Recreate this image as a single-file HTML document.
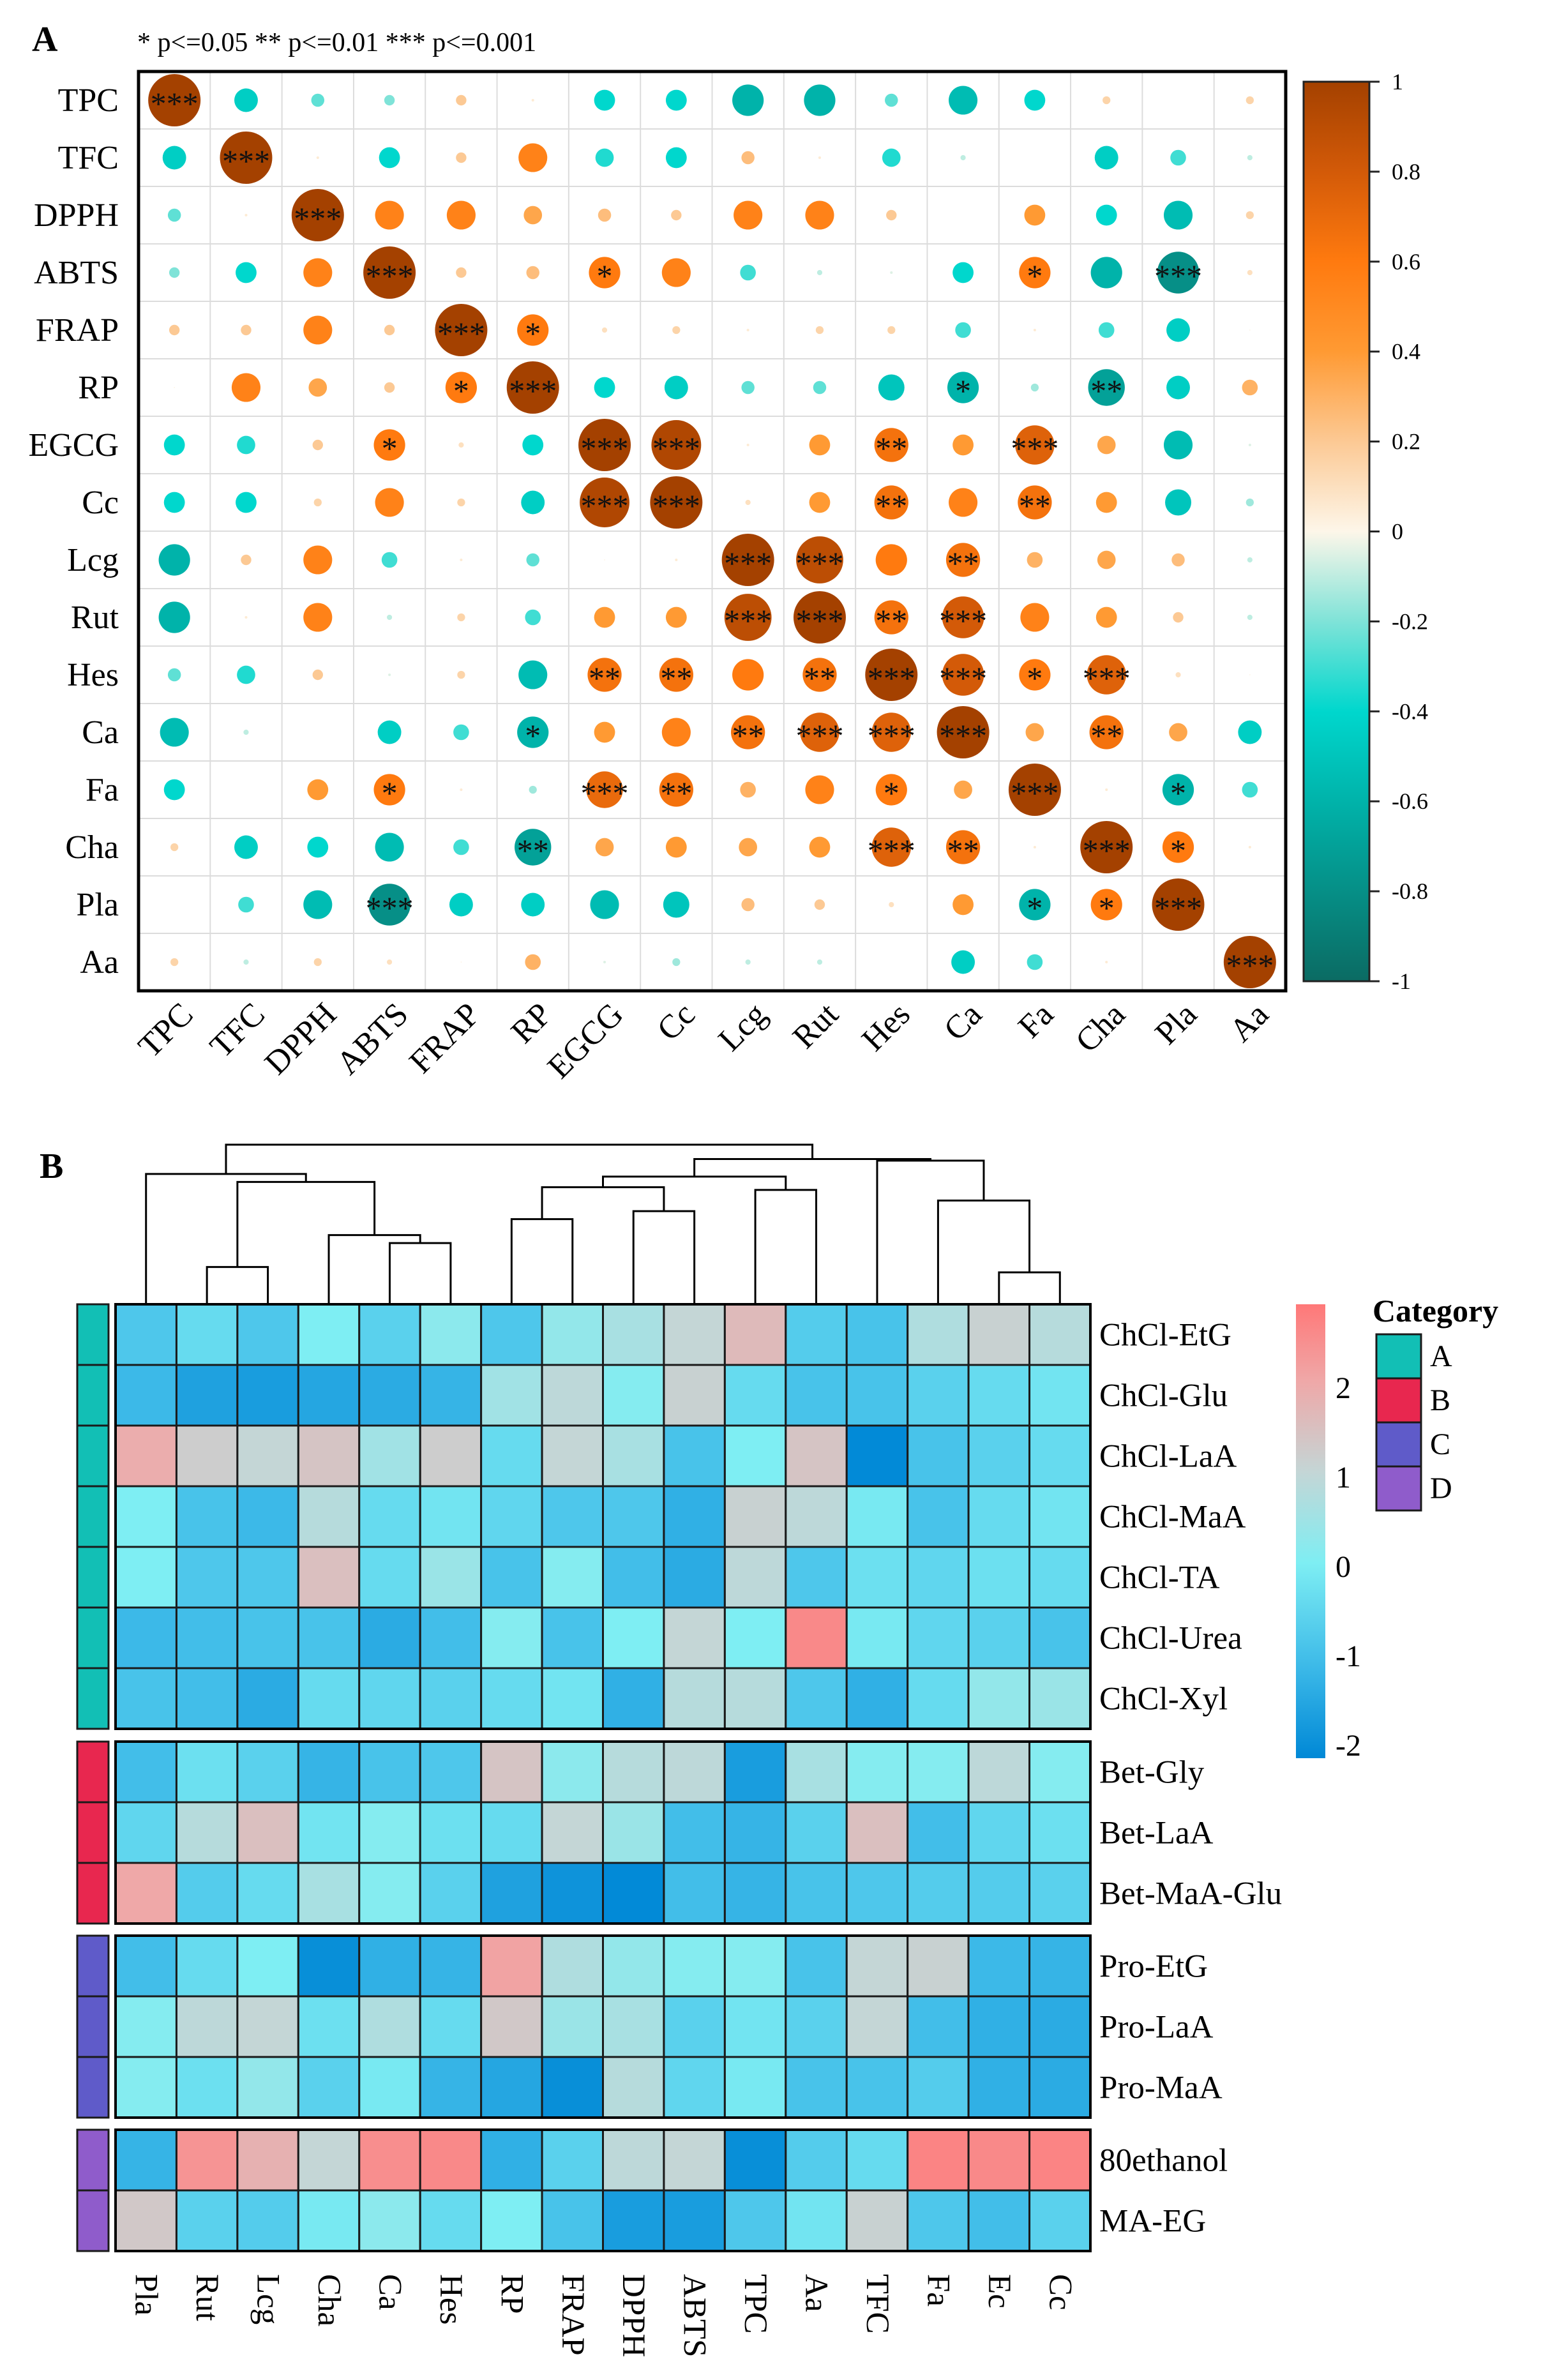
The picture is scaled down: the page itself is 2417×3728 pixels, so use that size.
<!DOCTYPE html>
<html><head><meta charset="utf-8"><style>
html,body{margin:0;padding:0;background:#fff}
svg{display:block;font-family:"Liberation Serif",serif}
</style></head><body>
<svg id="fig" xmlns="http://www.w3.org/2000/svg" width="2417" height="3728" viewBox="0 0 2417 3728">
<defs>
<linearGradient id="gA" x1="0" y1="1" x2="0" y2="0">
<stop offset="0" stop-color="#0b6b63"/><stop offset="0.2" stop-color="#00b3aa"/><stop offset="0.3" stop-color="#00d7cd"/><stop offset="0.4" stop-color="#7fe3d8"/><stop offset="0.5" stop-color="#fdf6e9"/><stop offset="0.6" stop-color="#fcc994"/><stop offset="0.7" stop-color="#ff9a33"/><stop offset="0.8" stop-color="#ff7a0f"/><stop offset="0.9" stop-color="#d35a08"/><stop offset="1" stop-color="#a44100"/>
</linearGradient>
<linearGradient id="gB" x1="0" y1="1" x2="0" y2="0">
<stop offset="0" stop-color="#0088d6"/><stop offset="0.2" stop-color="#3cb9e8"/><stop offset="0.43" stop-color="#7eeef3"/><stop offset="0.63" stop-color="#c4d6d6"/><stop offset="0.83" stop-color="#efa8a8"/><stop offset="1" stop-color="#ff7878"/>
</linearGradient>
</defs>
<text x="50" y="80" font-size="56" font-weight="bold">A</text>
<text x="215" y="80" font-size="42">* p&lt;=0.05  ** p&lt;=0.01  *** p&lt;=0.001</text>
<g id="panelA"></g>
<text x="62" y="1845" font-size="56" font-weight="bold">B</text>
<g id="panelB"></g>
</svg>
<script>
const varsA = ["TPC","TFC","DPPH","ABTS","FRAP","RP","EGCG","Cc","Lcg","Rut","Hes","Ca","Fa","Cha","Pla","Aa"];
const corrValues = [
[1,-0.45,-0.25,-0.2,0.2,0.05,-0.4,-0.4,-0.6,-0.6,-0.25,-0.55,-0.4,0.15,0,0.15],
[-0.45,1,0.05,-0.4,0.2,0.55,-0.35,-0.4,0.25,0.05,-0.35,-0.1,0,-0.45,-0.3,-0.1],
[-0.25,0.05,1,0.55,0.55,0.35,0.25,0.2,0.55,0.55,0.2,0,0.4,-0.4,-0.55,0.15],
[-0.2,-0.4,0.55,1,0.2,0.25,0.6,0.55,-0.3,-0.1,-0.05,-0.4,0.6,-0.6,-0.8,0.1],
[0.2,0.2,0.55,0.2,1,0.6,0.1,0.15,0.05,0.15,0.15,-0.3,0.05,-0.3,-0.45,0.02],
[0.02,0.55,0.35,0.2,0.6,1,-0.4,-0.45,-0.25,-0.25,-0.5,-0.6,-0.15,-0.7,-0.45,0.3],
[-0.4,-0.35,0.2,0.6,0.1,-0.4,1,0.95,0.05,0.4,0.65,0.4,0.75,0.35,-0.55,-0.05],
[-0.4,-0.4,0.15,0.55,0.15,-0.45,0.95,1,0.1,0.4,0.65,0.55,0.65,0.4,-0.5,-0.15],
[-0.6,0.2,0.55,-0.3,0.05,-0.25,0.02,0.05,1,0.9,0.6,0.65,0.3,0.35,0.25,-0.1],
[-0.6,0.05,0.55,-0.1,0.15,-0.3,0.4,0.4,0.9,1,0.65,0.8,0.55,0.4,0.2,-0.1],
[-0.25,-0.35,0.2,-0.05,0.15,-0.55,0.65,0.65,0.6,0.65,1,0.8,0.6,0.75,0.1,0.02],
[-0.55,-0.1,0,-0.45,-0.3,-0.6,0.4,0.55,0.65,0.75,0.75,1,0.35,0.65,0.35,-0.45],
[-0.4,0,0.4,0.6,0.05,-0.15,0.7,0.65,0.3,0.55,0.6,0.35,1,0.05,-0.6,-0.3],
[0.15,-0.45,-0.4,-0.55,-0.3,-0.7,0.35,0.4,0.35,0.4,0.75,0.65,0.05,1,0.6,0.05],
[0,-0.3,-0.55,-0.8,-0.45,-0.45,-0.55,-0.5,0.25,0.2,0.1,0.4,-0.6,0.6,1,0],
[0.15,-0.1,0.15,0.1,0.02,0.3,-0.05,-0.15,-0.1,-0.1,0,-0.45,-0.3,0.05,0,1]];
const corrStars = [
"3000000000000000","0300000000000000","0030000000000000","0003001000001030",
"0000310000000000","0000130000010200","0001003300203000","0000003300202000",
"0000000033020000","0000000033230000","0000002202331300","0000010023330200",
"0001003200103010","0000020000320310","0003000000001130","0000000000000003"];
const cbATicks = ["1","0.8","0.6","0.4","0.2","0","-0.2","-0.4","-0.6","-0.8","-1"];
const cbATickVals = [1,0.8,0.6,0.4,0.2,0,-0.2,-0.4,-0.6,-0.8,-1];

const rowsB = ["ChCl-EtG","ChCl-Glu","ChCl-LaA","ChCl-MaA","ChCl-TA","ChCl-Urea","ChCl-Xyl","Bet-Gly","Bet-LaA","Bet-MaA-Glu","Pro-EtG","Pro-LaA","Pro-MaA","80ethanol","MA-EG"];
const rowGroups = ["A","A","A","A","A","A","A","B","B","B","C","C","C","D","D"];
const colsB = ["Pla","Rut","Lcg","Cha","Ca","Hes","RP","FRAP","DPPH","ABTS","TPC","Aa","TFC","Fa","Ec","Cc"];
const heatValues = [
[-0.8,-0.4,-0.8,0,-0.6,0.2,-0.8,0.3,0.6,1,1.6,-0.7,-0.9,0.7,1.1,0.8],
[-1.1,-1.6,-1.7,-1.5,-1.4,-1.2,0.5,0.9,0.1,1.1,-0.4,-0.9,-0.9,-0.6,-0.4,-0.2],
[1.9,1.2,1.0,1.4,0.5,1.2,-0.4,1.0,0.6,-0.9,0,1.4,-2.1,-0.9,-0.6,-0.4],
[0,-0.9,-1.1,0.8,-0.4,-0.2,-0.5,-0.8,-0.8,-1.3,1.1,0.9,-0.1,-0.9,-0.4,-0.2],
[0,-0.8,-0.8,1.5,-0.4,0.4,-0.9,0.1,-1.0,-1.4,0.9,-0.8,-0.3,-0.5,-0.3,-0.4],
[-1.1,-1.0,-0.9,-0.9,-1.4,-1.0,0.1,-0.9,0,1.0,0,2.6,-0.1,-0.5,-0.6,-0.9],
[-0.9,-1.0,-1.4,-0.4,-0.5,-0.6,-0.4,-0.2,-1.3,0.8,0.8,-0.8,-1.3,-0.4,0.3,0.4],
[-1.0,-0.3,-0.6,-1.2,-0.9,-0.8,1.4,0.2,0.8,0.9,-1.7,0.6,0.1,0.1,0.9,0.1],
[-0.5,0.8,1.5,-0.2,0.1,-0.3,-0.4,1.0,0.4,-1.0,-1.2,-0.6,1.5,-1.0,-0.5,-0.3],
[2.0,-0.7,-0.4,0.6,0.1,-0.6,-1.6,-1.9,-2.1,-1.0,-1.2,-0.9,-0.8,-0.7,-0.7,-0.6],
[-1.0,-0.4,0.0,-2.0,-1.3,-1.2,2.1,0.7,0.3,0.1,0.1,-0.9,1.0,1.1,-1.1,-1.2],
[0.1,0.9,1.0,-0.3,0.7,-0.4,1.3,0.4,0.6,-0.6,-0.2,-0.6,1.0,-1.0,-1.3,-1.4],
[0.1,-0.3,0.3,-0.6,-0.1,-1.2,-1.5,-2.0,0.8,-0.5,-0.1,-0.9,-0.9,-0.7,-1.3,-1.4],
[-1.2,2.4,1.8,1.0,2.5,2.6,-1.3,-0.6,0.9,1.0,-2.0,-0.7,-0.4,2.7,2.6,2.7],
[1.3,-0.6,-0.7,-0.1,0.2,-0.4,0,-0.9,-1.7,-1.7,-0.8,-0.2,1.1,-0.8,-1.0,-0.6]];
const cbBTicks = ["2","1","0","-1","-2"];
const cbBTickVals = [2,1,0,-1,-2];
const categories = ["A","B","C","D"];
const categoryColors = ["#12bfb5","#e8274f","#5f5bc9","#8f5ccb"];
const merges = [[1,2,0.7],[4,5,1.15],[14,15,0.6],[3,17,1.3],[6,7,1.6],[8,9,1.75],[10,11,2.15],[13,18,1.95],[16,19,2.3],[20,21,2.2],[0,24,2.45],[25,22,2.4],[12,23,2.7],[27,28,2.73],[26,29,3.0]];
const dendroMax = 3.0;

const NS = "http://www.w3.org/2000/svg";
function mk(tag, attrs, parent, txt){const e=document.createElementNS(NS,tag);for(const k in attrs)e.setAttribute(k,attrs[k]);if(txt!==undefined)e.textContent=txt;parent.appendChild(e);return e;}
function lerp(a,b,t){return a+(b-a)*t;}
function hex(c){return [parseInt(c.slice(1,3),16),parseInt(c.slice(3,5),16),parseInt(c.slice(5,7),16)];}
function ramp(stops,v){
  if(v<=stops[0][0])return stops[0][1];
  for(let i=1;i<stops.length;i++){if(v<=stops[i][0]){const t=(v-stops[i-1][0])/(stops[i][0]-stops[i-1][0]);const a=hex(stops[i-1][1]),b=hex(stops[i][1]);return "rgb("+a.map((x,j)=>Math.round(lerp(x,b[j],t))).join(",")+")";}}
  return stops[stops.length-1][1];}
const stopsA=[[-1,"#0b6b63"],[-0.6,"#00b3aa"],[-0.4,"#00d7cd"],[-0.2,"#7fe3d8"],[0,"#fdf6e9"],[0.2,"#fcc994"],[0.4,"#ff9a33"],[0.6,"#ff7a0f"],[0.8,"#d35a08"],[1,"#a44100"]];
const stopsB=[[-2.14,"#0088d6"],[-1.1,"#3cb9e8"],[0,"#7eeef3"],[1,"#c4d6d6"],[2,"#efa8a8"],[2.94,"#ff7878"]];

// ---------- Panel A ----------
const A=document.getElementById("panelA");
const ax0=217, ax1=2014, ay0=112, ay1=1552;
const cw=(ax1-ax0)/16, ch=(ay1-ay0)/16;
const xA=i=>ax0+cw*(i+0.5), yA=i=>ay0+ch*(i+0.5);
for(let i=1;i<16;i++){
  const l1=mk("line",{x1:ax0+cw*i,y1:ay0,x2:ax0+cw*i,y2:ay1,stroke:"#dcdcdc","stroke-width":2},A);
  
  
  const l2=mk("line",{x1:ax0,y1:ay0+ch*i,x2:ax1,y2:ay0+ch*i,stroke:"#dcdcdc","stroke-width":2},A);
  
  
}
for(let r=0;r<16;r++){for(let c=0;c<16;c++){
  const v=corrValues[r][c]; const rad=41*Math.abs(v);
  if(rad>0.5){const ci=mk("circle",{cx:xA(c),cy:yA(r),r:rad,fill:ramp(stopsA,v)},A);
  
  }
  const s=+corrStars[r][c];
  if(s>0){const t=mk("text",{x:xA(c),y:yA(r)+22,"font-size":50,"text-anchor":"middle",fill:"#111"},A,"*".repeat(s));
  
  }
}}
const frame=mk("rect",{x:ax0,y:ay0,width:ax1-ax0,height:ay1-ay0,fill:"none",stroke:"#000","stroke-width":5},A);


varsA.forEach((n,i)=>{
  const t=mk("text",{x:186,y:yA(i)+17,"font-size":52,"text-anchor":"end"},A,n);
  
  
  const tx=xA(i)+32, ty=1592;
  const t2=mk("text",{x:tx,y:ty,"font-size":52,"text-anchor":"end",transform:"rotate(-45 "+tx+" "+ty+")"},A,n);
  
  
});
const cbx=2042, cbw=103, cby0=128, cby1=1537;
const cbA=mk("rect",{x:cbx,y:cby0,width:cbw,height:cby1-cby0,fill:"url(#gA)",stroke:"#222","stroke-width":3},A);


const yCbA=v=>cby1-(v+1)/2*(cby1-cby0);
cbATicks.forEach((lab,i)=>{const y=yCbA(cbATickVals[i]);
  const tk=mk("line",{x1:cbx+cbw,y1:y,x2:cbx+cbw+16,y2:y,stroke:"#222","stroke-width":3},A);
  
  
  const t=mk("text",{x:2180,y:y+12,"font-size":36},A,lab);
  
  
});

// ---------- Panel B ----------
const B=document.getElementById("panelB");
const bx0=181, bx1=1708, bcw=(bx1-bx0)/16;
const groupTops={A:2043,B:2728,C:3032,D:3336};
const brh=95;
const xB=i=>bx0+bcw*(i+0.5);
const rowTop=[]; const cnt={};
rowsB.forEach((n,i)=>{const g=rowGroups[i];cnt[g]=(cnt[g]||0);rowTop.push(groupTops[g]+cnt[g]*brh);cnt[g]++;});
rowsB.forEach((n,r)=>{
  for(let c=0;c<16;c++){
    const rc=mk("rect",{x:bx0+bcw*c,y:rowTop[r],width:bcw,height:brh,fill:ramp(stopsB,heatValues[r][c]),stroke:"#1a1a1a","stroke-width":3},B);
    
    
  }
  const gi=categories.indexOf(rowGroups[r]);
  const cb=mk("rect",{x:121,y:rowTop[r],width:49,height:brh,fill:categoryColors[gi],stroke:"#1a1a1a","stroke-width":3},B);
  
  
  const t=mk("text",{x:1722,y:rowTop[r]+brh/2+17,"font-size":51},B,n);
  
  
});
categories.forEach(g=>{
  const rs=rowGroups.map((x,i)=>x===g?i:-1).filter(i=>i>=0);
  const top=rowTop[rs[0]], h=rs.length*brh;
  const f=mk("rect",{x:bx0,y:top,width:bx1-bx0,height:h,fill:"none",stroke:"#000","stroke-width":4},B);
  
  
});
colsB.forEach((n,i)=>{const tx=xB(i)-16, ty=3562;
  const t=mk("text",{x:tx,y:ty,"font-size":51,transform:"rotate(90 "+tx+" "+ty+")"},B,n);
  
  
});
const dTop=1793, dBot=2043;
const yD=h=>dBot-h/dendroMax*(dBot-dTop);
const nodes=[]; for(let i=0;i<16;i++)nodes.push({x:xB(i),h:0});
merges.forEach(m=>{const a=nodes[m[0]],b=nodes[m[1]],y=yD(m[2]);
  const p=mk("path",{d:"M"+a.x+" "+yD(a.h)+"V"+y+"H"+b.x+"V"+yD(b.h),fill:"none",stroke:"#000","stroke-width":3},B);
  
  
  nodes.push({x:(a.x+b.x)/2,h:m[2]});
});
const bcx=2030,bcw2=46,bcy0=2043,bcy1=2754;
const cbB=mk("rect",{x:bcx,y:bcy0,width:bcw2,height:bcy1-bcy0,fill:"url(#gB)"},B);


const yCbB=v=>2454-v*140;
cbBTicks.forEach((lab,i)=>{
  const t=mk("text",{x:2092,y:yCbB(cbBTickVals[i])+16,"font-size":48},B,lab);
  
  
});
const lt=mk("text",{x:2150,y:2070,"font-size":50,"font-weight":"bold"},B,"Category");


categories.forEach((g,i)=>{const y=2090+i*69;
  const r=mk("rect",{x:2156,y:y,width:70,height:69,fill:categoryColors[i],stroke:"#1a1a1a","stroke-width":3},B);
  
  
  const t=mk("text",{x:2240,y:y+50,"font-size":48},B,g);
  
  
});
</script>
</body></html>
